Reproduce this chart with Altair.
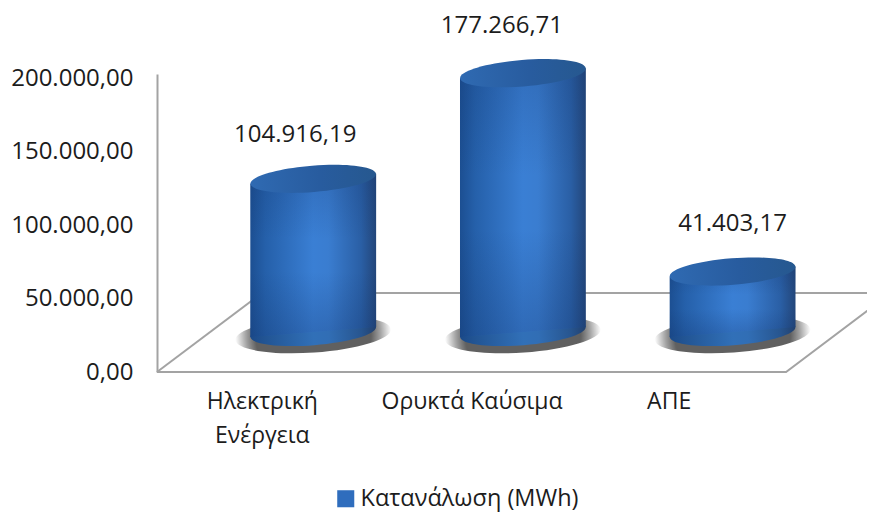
import altair as alt
import pandas as pd

categories = ["Ηλεκτρική Ενέργεια", "Ορυκτά Καύσιμα", "ΑΠΕ"]
values = [104916.19, 177266.71, 41403.17]
value_labels = ["104.916,19", "177.266,71", "41.403,17"]
series_name = "Κατανάλωση (MWh)"
y_ticks = [0, 50000, 100000, 150000, 200000]
FONT = "Open Sans"
TXT = "#1c1c1c"
GREY = "#a3a3a3"

CENTER = 0.745
HALF = 0.30
TILT = 3425     # cylinder-scale units between ellipse centre and its ends
X_MAX = 3.386
FLOOR_DEPTH = 53815
x_scale = alt.Scale(domain=[0, X_MAX], nice=False, zero=False)
y_scale = alt.Scale(domain=[0, 203000], nice=False)
cyl_scale = alt.Scale(domain=[-27397, 176713], nice=False, zero=False)

ell = "M-1,0 A1,0.21 0 1 1 1,0 A1,0.21 0 1 1 -1,0 Z"
shadow_shape = "M-1,0 A1,0.23 0 1 1 1,0 A1,0.23 0 1 1 -1,0 Z"

def lin(stops, vertical=False):
    return alt.LinearGradient(gradient="linear", x1=0, y1=0, x2=0 if vertical else 1, y2=1 if vertical else 0,
                              stops=[alt.GradientStop(offset=o, color=c) for o, c in stops])

body_fill = lin([(0, "#1c4f92"), (0.12, "#2560aa"), (0.5, "#3a7fd4"), (0.62, "#3a7dd0"), (0.88, "#2a5fa5"), (1, "#23467a")])
shade_fill = lin([(0, "rgba(18,50,105,0.22)"), (0.4, "rgba(18,50,105,0)"), (0.6, "rgba(18,50,105,0)"),
                  (1, "rgba(18,50,105,0.28)")], vertical=True)
bottom_fill = lin([(0, "#1b4a89"), (0.12, "#225594"), (0.5, "#3170b8"), (0.62, "#316eb5"), (0.88, "#27558f"), (1, "#21406e")])
top_fill = lin([(0, "#2f6ab2"), (0.55, "#285c9f"), (1, "#26588f")])
shadow_fill = alt.RadialGradient(gradient="radial", x1=0.5, y1=0.5, r1=0.37, x2=0.5, y2=0.5, r2=0.5,
    stops=[alt.GradientStop(offset=0, color="#606060"),
           alt.GradientStop(offset=0.45, color="#a0a0a0"),
           alt.GradientStop(offset=1, color="#ffffff")])

label_expr = ("datum.value < 1 ? ['Ηλεκτρική', 'Ενέργεια'] : "
              "datum.value < 2 ? 'Ορυκτά Καύσιμα' : 'ΑΠΕ'")
x_axis = alt.Axis(values=[0.5, 1.5, 2.44], labelExpr=label_expr, domain=False, ticks=False, grid=False,
                  title=None, labelFont=FONT, labelFontSize=23, labelColor=TXT, labelPadding=18,
                  labelLineHeight=34, labelBaseline="top", labelAngle=0, labelAlign="center",
                  labelLimit=400, labelOverlap=False)

def X(field="x"):
    return alt.X(f"{field}:Q", scale=x_scale, axis=x_axis)

# floor and wall
floor_rows = []
for g, xs, ys in [("front", [0, 3, 3.5], [0, 0, FLOOR_DEPTH]),
                  ("left", [0, 0.5], [0, FLOOR_DEPTH]),
                  ("back", [0.5, 3.5], [FLOOR_DEPTH, FLOOR_DEPTH])]:
    floor_rows += [{"g": g, "o": i, "x": a, "y": b} for i, (a, b) in enumerate(zip(xs, ys))]
y_axis = alt.Axis(values=y_ticks, grid=False, ticks=False, title=None, domainColor=GREY, domainWidth=2,
                  labelFont=FONT, labelFontSize=24, labelColor=TXT, labelPadding=24,
                  labelExpr="replace(replace(replace(format(datum.value, ',.2f'), ',', '_'), '.', ','), '_', '.')")
floor = alt.Chart(pd.DataFrame(floor_rows)).mark_line(color=GREY, strokeWidth=2).encode(
    x=X(),
    y=alt.Y("y:Q", scale=y_scale, axis=y_axis),
    detail="g:N",
    order="o:Q",
)

# cylinders
centres = [i + CENTER for i in range(3)]
base = pd.DataFrame({"x": centres, "value": values, "name": categories})
body_rows = []
for i, (c, v) in enumerate(zip(centres, values)):
    body_rows.append({"k": i, "x": c - HALF, "top": v - TILT, "bot": -TILT})
    body_rows.append({"k": i, "x": c + HALF, "top": v + TILT, "bot": TILT})
body_df = pd.DataFrame(body_rows)
base["zero"] = 0.0
base["shadow"] = -1800.0
R = 63
SHADOW_R = 78

def ell_layer(field, shape, r, fill, angle):
    return alt.Chart(base).mark_point(filled=True, shape=shape, size=4 * r * r, fill=fill, opacity=1,
                                      angle=angle, strokeWidth=0).encode(
        x=X(), y=alt.Y(f"{field}:Q", scale=cyl_scale, axis=None))

def body_layer(fill):
    return alt.Chart(body_df).mark_area(fill=fill, opacity=1).encode(
        x=X(), y=alt.Y("top:Q", scale=cyl_scale, axis=None), y2="bot:Q", detail="k:N")

shadow = ell_layer("shadow", shadow_shape, SHADOW_R, shadow_fill, 356)
bottom = ell_layer("zero", ell, R, bottom_fill, 355.5)
body = body_layer(body_fill)
shade = body_layer(shade_fill)
top = ell_layer("value", ell, R, top_fill, 355.5)

cylinders = alt.layer(shadow, bottom, body, shade, top)

# value labels
offsets = [(-18, -44), (-21, -47), (0, -48)]
label_layers = []
for c, v, t, (dx, dy) in zip(centres, values, value_labels, offsets):
    label_layers.append(
        alt.Chart(pd.DataFrame({"x": [c], "value": [v], "t": [t]})).mark_text(
            font=FONT, fontSize=24, color=TXT, dx=dx, dy=dy).encode(
            x=X(), y=alt.Y("value:Q", scale=cyl_scale, axis=None), text="t:N"))

# legend carrier
legend_layer = alt.Chart(pd.DataFrame({"s": [series_name], "x": [1.0], "y": [1000.0]})).mark_square(size=0).encode(
    x=X(), y=alt.Y("y:Q", scale=y_scale, axis=None),
    color=alt.Color("s:N", scale=alt.Scale(range=["#2f6dbd"]),
                    legend=alt.Legend(orient="none", legendX=177, legendY=413, title=None, symbolType="square",
                                      symbolSize=290, symbolOpacity=1, labelFont=FONT, labelFontSize=23.5,
                                      labelColor=TXT, labelLimit=400, labelOffset=3)))

chart = alt.layer(floor, legend_layer, cylinders, *label_layers).resolve_scale(y="independent").properties(
    width=710, height=298,
    autosize=alt.AutoSizeParams(type="none"),
    padding={"left": 149, "top": 66, "right": 0, "bottom": 141},
).configure_view(stroke=None)

chart.save("out.html", embed_options={"renderer": "svg", "actions": False})
